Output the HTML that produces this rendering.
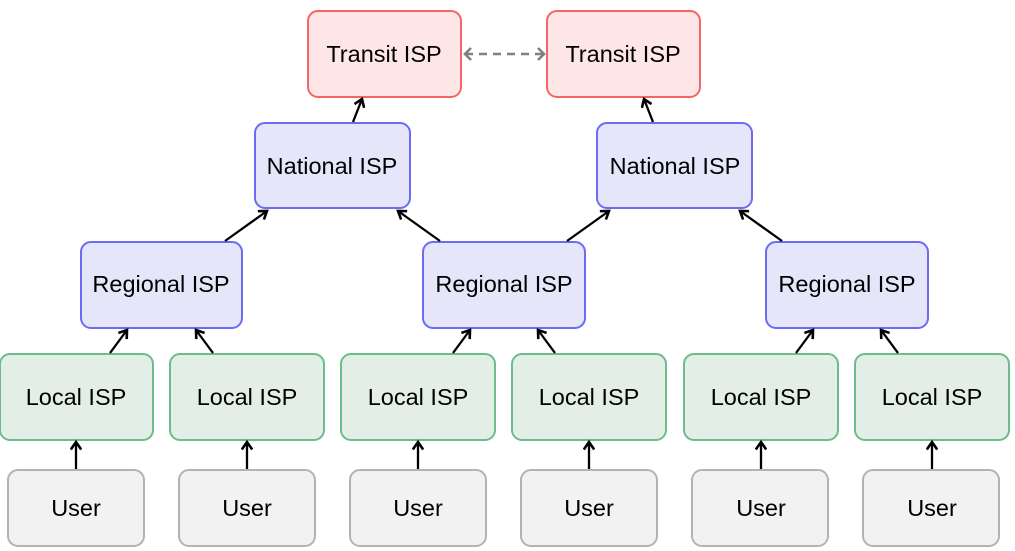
<!DOCTYPE html>
<html><head><meta charset="utf-8"><style>
html,body{margin:0;padding:0;background:#fff;}
svg{display:block;}
text{font-family:"Liberation Sans",Arial,sans-serif;font-size:23.5px;fill:#000;text-anchor:middle;dominant-baseline:central;}
</style></head><body>
<svg width="1015" height="551" viewBox="0 0 1015 551" xmlns="http://www.w3.org/2000/svg">
<defs>
<marker id="a" markerWidth="12" markerHeight="12" refX="9" refY="6" orient="auto" markerUnits="userSpaceOnUse">
<path d="M1.5,0.8 L9,6 L1.5,11.2" fill="none" stroke="#000" stroke-width="2.6"/>
</marker>
<marker id="g" markerWidth="10" markerHeight="14" refX="8" refY="7" orient="auto-start-reverse" markerUnits="userSpaceOnUse">
<path d="M2,1 L8,7 L2,13" fill="none" stroke="#808080" stroke-width="2.6"/>
</marker>
</defs>
<rect x="308" y="11" width="153" height="86" rx="10" fill="#ffe6e6" stroke="#f46666" stroke-width="2"/>
<text x="384" y="54">Transit ISP</text>
<rect x="547" y="11" width="153" height="86" rx="10" fill="#ffe6e6" stroke="#f46666" stroke-width="2"/>
<text x="623" y="54">Transit ISP</text>
<line x1="465" y1="54" x2="544" y2="54" stroke="#808080" stroke-width="2.4" stroke-dasharray="8,6" marker-start="url(#g)" marker-end="url(#g)"/>
<rect x="255" y="123" width="155" height="85" rx="10" fill="#e6e6fb" stroke="#6b6bf5" stroke-width="2"/>
<text x="332" y="166">National ISP</text>
<rect x="597" y="123" width="155" height="85" rx="10" fill="#e6e6fb" stroke="#6b6bf5" stroke-width="2"/>
<text x="675" y="166">National ISP</text>
<rect x="81" y="242" width="161" height="86" rx="10" fill="#e6e6fb" stroke="#6b6bf5" stroke-width="2"/>
<text x="161" y="284">Regional ISP</text>
<rect x="423" y="242" width="162" height="86" rx="10" fill="#e6e6fb" stroke="#6b6bf5" stroke-width="2"/>
<text x="504" y="284">Regional ISP</text>
<rect x="766" y="242" width="162" height="86" rx="10" fill="#e6e6fb" stroke="#6b6bf5" stroke-width="2"/>
<text x="847" y="284">Regional ISP</text>
<g fill="#e3efe6" stroke="#6bbd8a" stroke-width="2">
<rect x="0" y="354" width="153" height="86" rx="10"/>
<rect x="170" y="354" width="154" height="86" rx="10"/>
<rect x="341" y="354" width="154" height="86" rx="10"/>
<rect x="512" y="354" width="154" height="86" rx="10"/>
<rect x="684" y="354" width="154" height="86" rx="10"/>
<rect x="855" y="354" width="154" height="86" rx="10"/>
</g>
<text x="76" y="397">Local ISP</text>
<text x="247" y="397">Local ISP</text>
<text x="418" y="397">Local ISP</text>
<text x="589" y="397">Local ISP</text>
<text x="761" y="397">Local ISP</text>
<text x="932" y="397">Local ISP</text>
<g fill="#f2f2f2" stroke="#b3b3b3" stroke-width="2">
<rect x="8" y="470" width="136" height="76" rx="10"/>
<rect x="179" y="470" width="136" height="76" rx="10"/>
<rect x="350" y="470" width="136" height="76" rx="10"/>
<rect x="521" y="470" width="136" height="76" rx="10"/>
<rect x="692" y="470" width="136" height="76" rx="10"/>
<rect x="863" y="470" width="136" height="76" rx="10"/>
</g>
<text x="76" y="508">User</text>
<text x="247" y="508">User</text>
<text x="418" y="508">User</text>
<text x="589" y="508">User</text>
<text x="761" y="508">User</text>
<text x="932" y="508">User</text>
<g stroke="#000" stroke-width="2.3" marker-end="url(#a)" fill="none">
<line x1="353" y1="122" x2="362" y2="99"/>
<line x1="653" y1="122" x2="644" y2="99"/>
<line x1="225" y1="241" x2="267" y2="211"/>
<line x1="440" y1="241" x2="398" y2="211"/>
<line x1="567" y1="241" x2="609" y2="211"/>
<line x1="782" y1="241" x2="740" y2="211"/>
<line x1="110" y1="353" x2="127" y2="330"/>
<line x1="213" y1="353" x2="196" y2="330"/>
<line x1="453" y1="353" x2="470" y2="330"/>
<line x1="555" y1="353" x2="538" y2="330"/>
<line x1="796" y1="353" x2="813" y2="330"/>
<line x1="898" y1="353" x2="881" y2="330"/>
<line x1="76" y1="469" x2="76" y2="442"/>
<line x1="247" y1="469" x2="247" y2="442"/>
<line x1="418" y1="469" x2="418" y2="442"/>
<line x1="589" y1="469" x2="589" y2="442"/>
<line x1="761" y1="469" x2="761" y2="442"/>
<line x1="932" y1="469" x2="932" y2="442"/>
</g>
</svg>
</body></html>
